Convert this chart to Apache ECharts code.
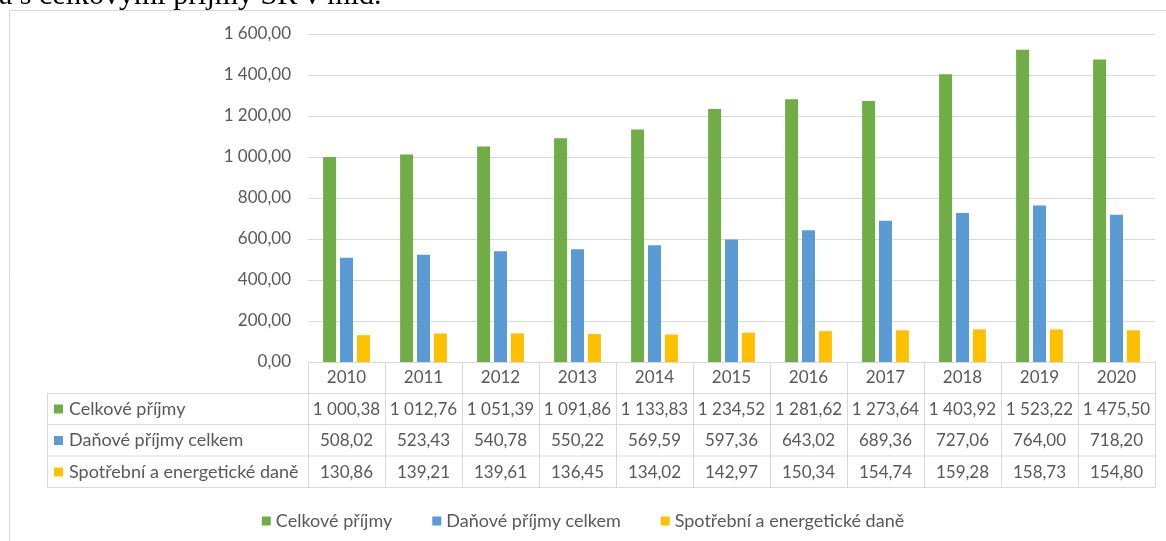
<!DOCTYPE html>
<html>
<head>
<meta charset="utf-8">
<script src="https://cdn.jsdelivr.net/npm/echarts@6/dist/echarts.min.js"></script>
<style>
  html, body { margin: 0; padding: 0; background: #fff; }
  #chart { width: 1166px; height: 541px; }
</style>
</head>
<body>
<div id="chart"></div>
<script>
  // roky a hodnoty (mld.)
  const years = ['2010', '2011', '2012', '2013', '2014', '2015', '2016', '2017', '2018', '2019', '2020'];
  const celkovePrijmy = [1000.38, 1012.76, 1051.39, 1091.86, 1133.83, 1234.52, 1281.62, 1273.64, 1403.92, 1523.22, 1475.50];
  const danovePrijmy = [508.02, 523.43, 540.78, 550.22, 569.59, 597.36, 643.02, 689.36, 727.06, 764.00, 718.20];
  const spotrebniDane = [130.86, 139.21, 139.61, 136.45, 134.02, 142.97, 150.34, 154.74, 159.28, 158.73, 154.80];
  const seriesNames = ['Celkové příjmy', 'Daňové příjmy celkem', 'Spotřební a energetické daně'];
  const colors = ['#70AD47', '#5B9BD5', '#FFC000'];
  const seriesData = [celkovePrijmy, danovePrijmy, spotrebniDane];

  const FONT = 'Lato';
  const TXT = '#595959';
  const LINE = '#d9d9d9';

  // 1 234,56
  function fmt(v) {
    let parts = v.toFixed(2).split('.');
    let intPart = parts[0].replace(/\B(?=(\d{3})+(?!\d))/g, ' ');
    return intPart + ',' + parts[1];
  }

  let chart = echarts.init(document.getElementById('chart'));

  // tabulka pod grafem - vodorovne cary a popisky radku
  let graphics = [
    { type: 'rect', shape: { x: 9.5, y: 10.5, width: 1300, height: 700 }, style: { fill: 'none', stroke: LINE, lineWidth: 1 }, silent: true },
    { type: 'text', left: -1, top: -19, style: { text: 'a s celkovými příjmy SR v mld.', font: '30px "Liberation Serif"', fill: '#000' } },
    { type: 'line', shape: { x1: 47.5, y1: 393, x2: 47.5, y2: 487.5 }, style: { stroke: LINE, lineWidth: 1 } }
  ];
  const rowLines = [393.5, 424.5, 456, 487.5];
  rowLines.forEach(y => {
    graphics.push({ type: 'line', shape: { x1: 47, y1: y, x2: 1155.5, y2: y }, style: { stroke: LINE, lineWidth: 1 } });
  });
  seriesNames.forEach((name, i) => {
    let cy = 409 + i * 31.5;
    graphics.push({ type: 'rect', shape: { x: 54, y: cy - 4.5, width: 9, height: 9 }, style: { fill: colors[i] } });
    graphics.push({ type: 'text', x: 69, y: cy, style: { text: name, font: '18px ' + FONT, fill: TXT, verticalAlign: 'middle' } });
  });

  chart.setOption({
    animation: false,
    color: colors,
    grid: { left: 308, right: 11, top: 34, bottom: 179 },
    legend: {
      top: 507,
      left: 'center',
      icon: 'rect',
      itemWidth: 9,
      itemHeight: 9,
      itemGap: 40,
      textStyle: { fontFamily: FONT, fontSize: 18, color: TXT },
      data: seriesNames
    },
    xAxis: {
      type: 'category',
      data: years,
      axisLine: { lineStyle: { color: LINE } },
      axisTick: { show: true, length: 125, interval: 0, lineStyle: { color: LINE } },
      axisLabel: {
        margin: 0,
        interval: 0,
        fontFamily: FONT,
        fontSize: 17,
        color: TXT,
        lineHeight: 31.5,
        formatter: (val, idx) => [val, fmt(celkovePrijmy[idx]), fmt(danovePrijmy[idx]), fmt(spotrebniDane[idx])].join('\n')
      }
    },
    yAxis: {
      type: 'value',
      min: 0,
      max: 1600,
      interval: 200,
      axisLine: { show: false },
      axisTick: { show: false },
      splitLine: { lineStyle: { color: LINE, width: 1 } },
      axisLabel: { margin: 17, fontFamily: FONT, fontSize: 17, color: TXT, formatter: v => fmt(v) }
    },
    series: seriesData.map((d, i) => ({
      name: seriesNames[i],
      type: 'bar',
      data: d,
      barWidth: 13,
      barGap: '30%'
    })),
    graphic: graphics
  });
</script>
</body>
</html>
